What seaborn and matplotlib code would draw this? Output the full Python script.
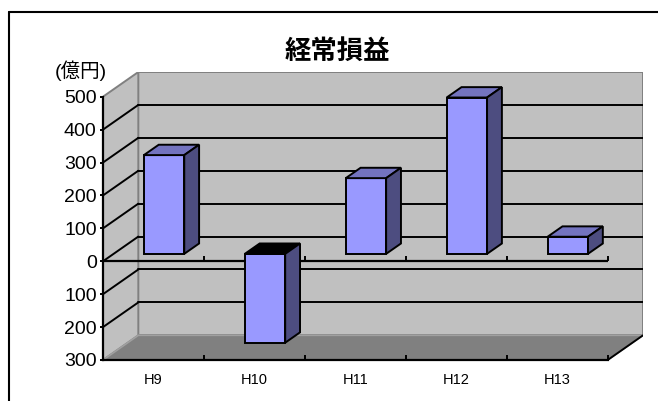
import numpy as np
import matplotlib.pyplot as plt
import seaborn as sns
from matplotlib.patches import Polygon
from matplotlib.lines import Line2D

# data (億円)
years = ['H9', 'H10', 'H11', 'H12', 'H13']
profit = [300, -270, 230, 475, 52]
yticks = [-300, -200, -100, 0, 100, 200, 300, 400, 500]

# fake 3d box: depth offset in data units, bar front position / depth as fraction of it
DX, DY = 0.35, 75
F0, BD = 0.3, 0.42
LEFT, RIGHT = -0.5, 4.5
LO, HI = yticks[0], yticks[-1]

sns.set_style('white')
plt.rcParams['font.family'] = ['Liberation Sans', 'Noto Sans CJK JP']
plt.rcParams['text.color'] = 'black'
plt.rcParams['xtick.color'] = 'black'
plt.rcParams['ytick.color'] = 'black'

fig = plt.figure(figsize=(6.58, 4.01), dpi=100)
ax = fig.add_axes([103/658, 41/401, 540/658, 288/401])
ax.patch.set_visible(False)

sns.barplot(x=years, y=profit, width=0.4, color='#9999FF', saturation=1,
            edgecolor='black', linewidth=1.4, ax=ax, zorder=4)
bars = list(ax.patches)

# push bars back into the box and add top / side faces
for p in bars:
    p.set_x(p.get_x() + F0*DX)
    p.set_y(p.get_y() + F0*DY)
    x0 = p.get_x()
    x1 = x0 + p.get_width()
    y_lo = min(p.get_y(), p.get_y() + p.get_height())
    y_hi = max(p.get_y(), p.get_y() + p.get_height())
    dx, dy = BD*DX, BD*DY
    top_col = '#7373BF' if p.get_height() > 0 else 'black'
    ax.add_patch(Polygon([(x0, y_hi), (x1, y_hi), (x1+dx, y_hi+dy), (x0+dx, y_hi+dy)],
                         fc=top_col, ec='black', lw=1.4, zorder=4))
    ax.add_patch(Polygon([(x1, y_lo), (x1+dx, y_lo+dy), (x1+dx, y_hi+dy), (x1, y_hi)],
                         fc='#4D4D80', ec='black', lw=1.4, zorder=4))

# walls and floor
ax.add_patch(Polygon([(LEFT+DX, LO+DY), (RIGHT+DX, LO+DY), (RIGHT+DX, HI+DY), (LEFT+DX, HI+DY)],
                     fc='#C0C0C0', ec='#808080', lw=1.4, zorder=0))
ax.add_patch(Polygon([(LEFT, LO), (LEFT+DX, LO+DY), (LEFT+DX, HI+DY), (LEFT, HI)],
                     fc='#C0C0C0', ec='#808080', lw=1.4, zorder=0))
ax.add_patch(Polygon([(LEFT, LO), (RIGHT, LO), (RIGHT+DX, LO+DY), (LEFT+DX, LO+DY)],
                     fc='#808080', ec='#A0A0A0', lw=1.2, zorder=0.5))
ax.plot([RIGHT, RIGHT+DX], [LO, LO+DY], color='black', lw=1.4, zorder=1)

# gridlines on back and side wall
for v in yticks[1:-1]:
    ax.plot([LEFT+DX, RIGHT+DX], [v+DY, v+DY], color='black', lw=1.4, zorder=1)
    ax.plot([LEFT, LEFT+DX], [v, v+DY], color='black', lw=1.4, zorder=1)

# zero line on the front plane with category ticks
ax.hlines(0, LEFT, RIGHT, color='black', lw=1.6, zorder=2)
ax.vlines(np.arange(0.5, 5), 0, 15, color='black', lw=1.4, zorder=2)

ax.set_xlim(LEFT, RIGHT + DX)
ax.set_ylim(LO, HI + DY)

for s in ['top', 'right']:
    ax.spines[s].set_visible(False)
ax.spines['left'].set_bounds(LO, HI)
ax.spines['bottom'].set_bounds(LEFT, RIGHT)
for s in ['left', 'bottom']:
    ax.spines[s].set_color('black')
    ax.spines[s].set_linewidth(1.6)
    ax.spines[s].set_zorder(3)

ax.set_yticks(yticks)
ax.set_yticklabels([str(abs(v)) for v in yticks], fontsize=14)
ax.tick_params(axis='y', direction='out', length=2.5, width=1.4, pad=2, left=True)

ax.set_xticks(np.arange(0.5, 5))
ax.set_xticklabels([''] * 5)
ax.set_xticks(range(len(years)), minor=True)
ax.set_xticklabels(years, minor=True, fontsize=10.5)
ax.tick_params(axis='x', which='major', direction='in', length=3.6, width=1.4, bottom=True)
ax.tick_params(axis='x', which='minor', length=0, pad=9)
ax.set_xlabel('')
ax.set_ylabel('')

fig.text(337/658, 1 - 51/401, '経常損益', ha='center', va='center', fontsize=19,
         fontweight='bold', family=['Noto Sans CJK JP'])
fig.text(81/658, 1 - 71/401, '(億円)', ha='center', va='center', fontsize=14,
         family=['Liberation Sans', 'Noto Sans CJK JP'])

# chart border
fig.add_artist(Line2D([9/658, 9/658], [0, 1 - 12/401], color='black', lw=1.5, transform=fig.transFigure))
fig.add_artist(Line2D([9/658, 1], [1 - 12/401, 1 - 12/401], color='black', lw=1.5, transform=fig.transFigure))

fig.savefig('out.png', dpi=100)
